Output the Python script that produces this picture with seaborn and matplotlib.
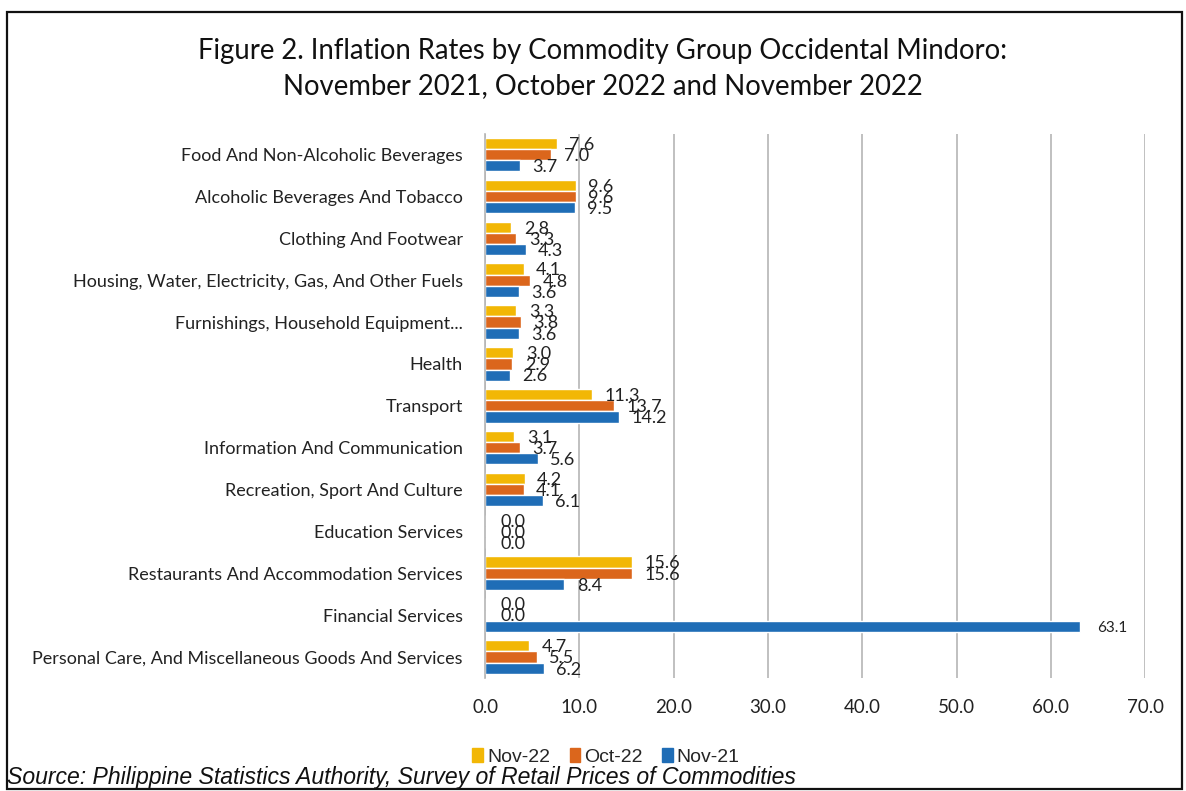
import matplotlib
matplotlib.use("Agg")
import matplotlib.pyplot as plt
import seaborn as sns
import pandas as pd
from matplotlib.patches import Rectangle

categories = [
    "Food And Non-Alcoholic Beverages",
    "Alcoholic Beverages And Tobacco",
    "Clothing And Footwear",
    "Housing, Water, Electricity, Gas, And Other Fuels",
    "Furnishings, Household Equipment...",
    "Health",
    "Transport",
    "Information And Communication",
    "Recreation, Sport And Culture",
    "Education Services",
    "Restaurants And Accommodation Services",
    "Financial Services",
    "Personal Care, And Miscellaneous Goods And Services",
]
nov22 = [7.6, 9.6, 2.8, 4.1, 3.3, 3.0, 11.3, 3.1, 4.2, 0.0, 15.6, 0.0, 4.7]
oct22 = [7.0, 9.6, 3.3, 4.8, 3.8, 2.9, 13.7, 3.7, 4.1, 0.0, 15.6, 0.0, 5.5]
nov21 = [3.7, 9.5, 4.3, 3.6, 3.6, 2.6, 14.2, 5.6, 6.1, 0.0, 8.4, 63.1, 6.2]
series_names = ["Nov-22", "Oct-22", "Nov-21"]
colors = ["#F2B705", "#DB661C", "#1F6DB6"]
xticks = [0, 10, 20, 30, 40, 50, 60, 70]

rows = []
for name, vals in zip(series_names, [nov22, oct22, nov21]):
    for c, v in zip(categories, vals):
        rows.append({"Commodity": c, "Period": name, "Rate": v})
df = pd.DataFrame(rows)

sns.set_theme(style="white")
font = "Lato"
plt.rcParams["font.family"] = [font, "DejaVu Sans"]

fig = plt.figure(figsize=(11.86, 7.91), dpi=100)
ax = fig.add_axes([0.409, 0.143, 0.5565, 0.688])

sns.barplot(data=df, y="Commodity", x="Rate", hue="Period",
            order=categories, hue_order=series_names,
            palette=colors, orient="h", width=0.8, ax=ax,
            saturation=1, legend=False, errorbar=None)

ax.set_xlim(0, 70)
ax.set_xticks(xticks)
ax.set_xticklabels([f"{t:.1f}" for t in xticks], fontsize=13.5, color="#222222")
ax.tick_params(axis="x", length=0, pad=15)
ax.tick_params(axis="y", length=0, pad=16, labelsize=13, labelcolor="#222222")
ax.set_xlabel("")
ax.set_ylabel("")
ax.grid(axis="x", color="#b5b5b5", linewidth=1.2)
ax.set_axisbelow(True)
for s in ["top", "right", "bottom"]:
    ax.spines[s].set_visible(False)
ax.spines["left"].set_color("#b5b5b5")
ax.spines["left"].set_linewidth(1.2)

# value labels at bar ends
for container in ax.containers:
    for bar in container:
        w = bar.get_width()
        yc = bar.get_y() + bar.get_height() / 2
        big = w > 40
        ax.annotate(f"{w:.1f}", xy=(w, yc), xytext=(11 if w == 0 else 9 if not big else 12, -1),
                    textcoords="offset points", ha="left", va="center",
                    fontsize=11 if big else 13, color="#222222",
                    annotation_clip=False)

fig.text(0.508, 0.935, "Figure 2. Inflation Rates by Commodity Group Occidental Mindoro:",
         ha="center", va="center", fontsize=19.8, color="#111111")
fig.text(0.508, 0.891, "November 2021, October 2022 and November 2022",
         ha="center", va="center", fontsize=19.8, color="#111111")

# legend
handles = [Rectangle((0, 0), 1, 1, color=c) for c in colors]
fig.legend(handles, series_names, loc="center", bbox_to_anchor=(0.511, 0.043),
           ncol=3, frameon=False, handlelength=0.55, handleheight=0.7,
           handletextpad=0.2, columnspacing=1.0, prop={"family": "Liberation Sans", "size": 14})

fig.text(0.006, 0.017, "Source: Philippine Statistics Authority, Survey of Retail Prices of Commodities",
         ha="left", va="center", fontsize=16.6, style="italic", family="Liberation Sans",
         color="#111111")

# outer frame
frame = Rectangle((0.006, 0.003), 0.991, 0.982, transform=fig.transFigure,
                  fill=False, edgecolor="#111111", linewidth=1.6)
fig.add_artist(frame)

fig.savefig("out.png", dpi=100, facecolor="white")
